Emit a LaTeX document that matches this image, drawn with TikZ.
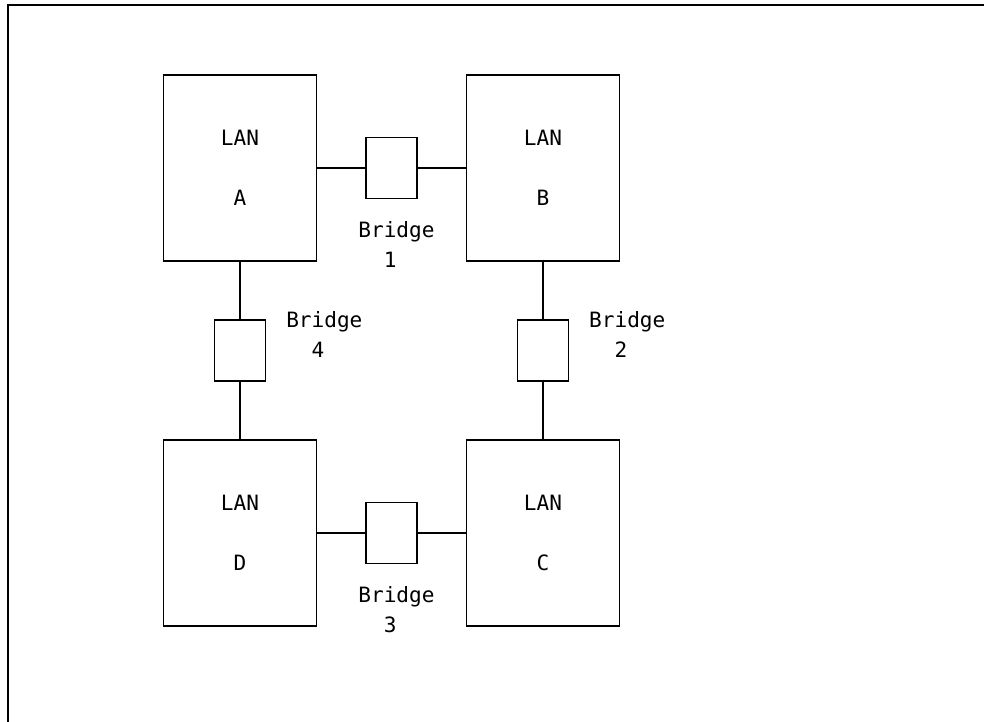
\documentclass[tikz,border=0pt]{standalone}
\usepackage{fontspec}
\setmainfont{DejaVu Sans Mono}
\usetikzlibrary{positioning}

\begin{document}
\begin{tikzpicture}[x=0.02cm,y=-0.02cm,line width=1pt,node distance=3.03cm,
  lan/.style={draw,minimum width=3.06cm,minimum height=3.72cm,align=center,font=\fontsize{12}{14}\selectfont},
  bridge/.style={draw,minimum width=1.02cm,minimum height=1.22cm},
  blabel/.style={align=left,inner sep=0pt,font=\fontsize{12}{17}\selectfont}]
\useasboundingbox (0,0) rectangle (984,722);
\draw (8,722) -- (8,5) -- (984,5);
% the four LANs with a bridge between each pair
\node (lanA) [lan] at (240,168) {LAN\\[20pt]A};
\node (br1) [bridge, right of=lanA] {};
\node (lanB) [lan, right of=br1] {LAN\\[20pt]B};
\node (br4) [bridge, below of=lanA, node distance=3.65cm] {};
\node (lanD) [lan, below of=br4, node distance=3.65cm] {LAN\\[20pt]D};
\node (br3) [bridge, right of=lanD] {};
\node (lanC) [lan, right of=br3] {LAN\\[20pt]C};
\node (br2) [bridge, below of=lanB, node distance=3.65cm] {};
\draw (lanA) -- (br1) -- (lanB);
\draw (lanB) -- (br2) -- (lanC);
\draw (lanC) -- (br3) -- (lanD);
\draw (lanD) -- (br4) -- (lanA);
% labels
\node (lb1) [blabel, below=0.42cm of br1, xshift=0.1cm] {Bridge\\\hphantom{Br}1};
\node (lb3) [blabel, below=0.42cm of br3, xshift=0.1cm] {Bridge\\\hphantom{Br}3};
\node (lb4) [blabel, anchor=north west] at ([xshift=0.38cm,yshift=0.16cm]br4.north east) {Bridge\\\hphantom{Br}4};
\node (lb2) [blabel, anchor=north west] at ([xshift=0.38cm,yshift=0.16cm]br2.north east) {Bridge\\\hphantom{Br}2};
\end{tikzpicture}
\end{document}
